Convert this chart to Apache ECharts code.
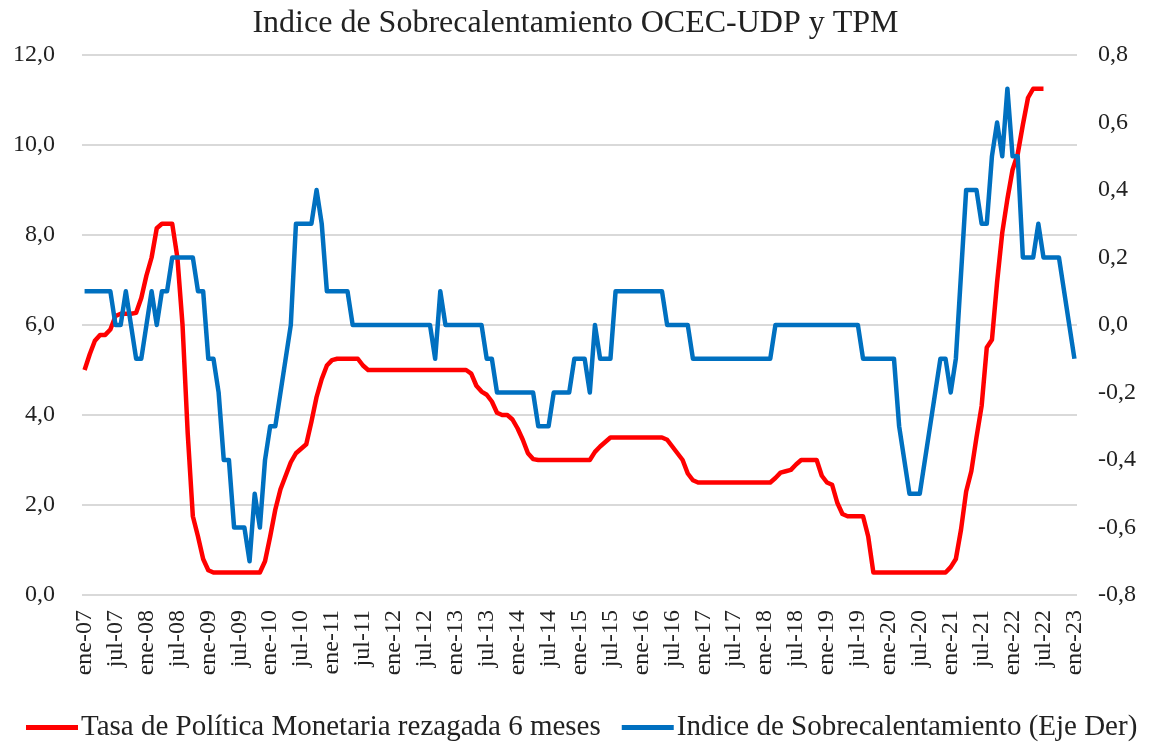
<!DOCTYPE html>
<html>
<head>
<meta charset="utf-8">
<script src="https://cdn.jsdelivr.net/npm/echarts@6/dist/echarts.min.js"></script>
<style>
html,body{margin:0;padding:0;background:#fff;}
#c{width:1151px;height:742px;}
</style>
</head>
<body>
<div id="c"></div>
<script>
// ---- DATA ----
var monthNames = ['ene','feb','mar','abr','may','jun','jul','ago','sep','oct','nov','dic'];
var years = ['07','08','09','10','11','12','13','14','15','16','17','18','19','20','21','22','23'];
var seriesNames = ['Tasa de Política Monetaria rezagada 6 meses', 'Indice de Sobrecalentamiento (Eje Der)'];

// Tasa de Política Monetaria rezagada 6 meses (ene-07 .. jul-22), left axis
var tpm = [
 5.0,5.35,5.65,5.78,5.78,5.9,6.2,6.25,6.25,6.25,6.27,6.6,
 7.1,7.5,8.15,8.25,8.25,8.25,7.5,6.0,3.6,1.75,1.3,0.8,
 0.55,0.5,0.5,0.5,0.5,0.5,0.5,0.5,0.5,0.5,0.5,0.75,
 1.3,1.9,2.35,2.65,2.95,3.15,3.25,3.35,3.85,4.4,4.8,5.1,
 5.22,5.25,5.25,5.25,5.25,5.25,5.1,5.0,5.0,5.0,5.0,5.0,
 5.0,5.0,5.0,5.0,5.0,5.0,5.0,5.0,5.0,5.0,5.0,5.0,
 5.0,5.0,5.0,4.92,4.65,4.52,4.45,4.3,4.05,4.0,4.0,3.9,
 3.7,3.45,3.15,3.02,3.0,3.0,3.0,3.0,3.0,3.0,3.0,3.0,
 3.0,3.0,3.0,3.18,3.3,3.4,3.5,3.5,3.5,3.5,3.5,3.5,
 3.5,3.5,3.5,3.5,3.5,3.45,3.3,3.15,3.0,2.7,2.55,2.5,
 2.5,2.5,2.5,2.5,2.5,2.5,2.5,2.5,2.5,2.5,2.5,2.5,
 2.5,2.5,2.6,2.72,2.75,2.78,2.9,3.0,3.0,3.0,3.0,2.65,
 2.5,2.45,2.05,1.8,1.75,1.75,1.75,1.75,1.3,0.5,0.5,0.5,
 0.5,0.5,0.5,0.5,0.5,0.5,0.5,0.5,0.5,0.5,0.5,0.5,
 0.62,0.8,1.45,2.3,2.75,3.5,4.2,5.5,5.67,6.95,8.05,8.8,
 9.45,9.8,10.45,11.05,11.25,11.25,11.25
];

// Indice de Sobrecalentamiento OCEC-UDP (ene-07 .. ene-23), right axis
var indice = [
 0.1,0.1,0.1,0.1,0.1,0.1,0.0,0.0,0.1,0.0,-0.1,-0.1,
 0.0,0.1,0.0,0.1,0.1,0.2,0.2,0.2,0.2,0.2,0.1,0.1,
 -0.1,-0.1,-0.2,-0.4,-0.4,-0.6,-0.6,-0.6,-0.7,-0.5,-0.6,-0.4,
 -0.3,-0.3,-0.2,-0.1,0.0,0.3,0.3,0.3,0.3,0.4,0.3,0.1,
 0.1,0.1,0.1,0.1,0.0,0.0,0.0,0.0,0.0,0.0,0.0,0.0,
 0.0,0.0,0.0,0.0,0.0,0.0,0.0,0.0,-0.1,0.1,0.0,0.0,
 0.0,0.0,0.0,0.0,0.0,0.0,-0.1,-0.1,-0.2,-0.2,-0.2,-0.2,
 -0.2,-0.2,-0.2,-0.2,-0.3,-0.3,-0.3,-0.2,-0.2,-0.2,-0.2,-0.1,
 -0.1,-0.1,-0.2,0.0,-0.1,-0.1,-0.1,0.1,0.1,0.1,0.1,0.1,
 0.1,0.1,0.1,0.1,0.1,0.0,0.0,0.0,0.0,0.0,-0.1,-0.1,
 -0.1,-0.1,-0.1,-0.1,-0.1,-0.1,-0.1,-0.1,-0.1,-0.1,-0.1,-0.1,
 -0.1,-0.1,0.0,0.0,0.0,0.0,0.0,0.0,0.0,0.0,0.0,0.0,
 0.0,0.0,0.0,0.0,0.0,0.0,0.0,-0.1,-0.1,-0.1,-0.1,-0.1,
 -0.1,-0.1,-0.3,-0.4,-0.5,-0.5,-0.5,-0.4,-0.3,-0.2,-0.1,-0.1,
 -0.2,-0.1,0.15,0.4,0.4,0.4,0.3,0.3,0.5,0.6,0.5,0.7,
 0.5,0.5,0.2,0.2,0.2,0.3,0.2,0.2,0.2,0.2,0.1,0.0,
 -0.1
];

// category labels ene-07 .. ene-23
var categories = [];
for (var y = 0; y < years.length; y++) {
  for (var m = 0; m < 12; m++) {
    categories.push(monthNames[m] + '-' + years[y]);
    if (y === years.length - 1) break;
  }
}

var FONT = '"Liberation Serif", "DejaVu Serif", serif';
var TXT = '#222';
function fmt(v){ return v.toFixed(1).replace('.', ','); }

var chart = echarts.init(document.getElementById('c'), null, {renderer:'canvas'});
chart.setOption({
  animation: false,
  backgroundColor: '#fff',
  title: {
    text: 'Indice de Sobrecalentamiento OCEC-UDP y TPM',
    left: 'center',
    top: 3,
    textStyle: {fontFamily: FONT, fontSize: 32, fontWeight: 'normal', color: TXT}
  },
  grid: {left: 82, right: 74, top: 55, bottom: 147, containLabel: false},
  legend: {
    data: seriesNames,
    left: 26,
    width: 1125,
    top: 713,
    padding: 0,
    icon: 'rect',
    itemWidth: 52,
    itemHeight: 5,
    itemGap: 21,
    textStyle: {fontFamily: FONT, fontSize: 29, color: TXT, padding: [0,0,0,-2]}
  },
  xAxis: {
    type: 'category',
    data: categories,
    boundaryGap: true,
    axisLine: {show: false},
    axisTick: {show: false},
    axisLabel: {
      interval: 5,
      rotate: 90,
      margin: 15,
      fontFamily: FONT,
      fontSize: 24,
      color: TXT
    },
    splitLine: {show: false}
  },
  yAxis: [
    {
      type: 'value',
      min: 0, max: 12, interval: 2,
      axisLine: {show: false},
      axisTick: {show: false},
      axisLabel: {formatter: fmt, margin: 27, fontFamily: FONT, fontSize: 24, color: TXT},
      splitLine: {show: true, lineStyle: {color: '#D9D9D9', width: 2}}
    },
    {
      type: 'value',
      min: -0.8, max: 0.8, interval: 0.2,
      position: 'right',
      axisLine: {show: false},
      axisTick: {show: false},
      axisLabel: {formatter: fmt, margin: 21, fontFamily: FONT, fontSize: 24, color: TXT},
      splitLine: {show: false}
    }
  ],
  series: [
    {
      name: seriesNames[0],
      type: 'line',
      yAxisIndex: 0,
      data: tpm,
      symbol: 'none',
      smooth: false,
      lineStyle: {color: '#FF0000', width: 4.5, join: 'round'},
      itemStyle: {color: '#FF0000'},
      z: 2
    },
    {
      name: seriesNames[1],
      type: 'line',
      yAxisIndex: 1,
      data: indice,
      symbol: 'none',
      smooth: false,
      lineStyle: {color: '#0070C0', width: 4.5, join: 'round'},
      itemStyle: {color: '#0070C0'},
      z: 3
    }
  ]
});
</script>
</body>
</html>
